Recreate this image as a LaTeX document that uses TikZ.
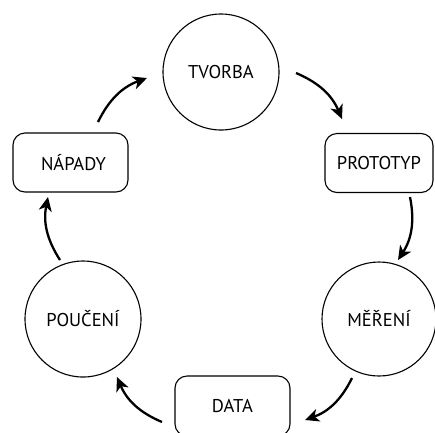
\documentclass[tikz,border=0pt]{standalone}
\usepackage{fontspec}
\setmainfont{PT Sans}
\usetikzlibrary{arrows.meta}
\begin{document}
\begin{tikzpicture}[x=1pt,y=-1pt,
  every node/.style={font=\fontsize{18.5}{20}\selectfont, text=black},
  circ/.style={draw, circle, line width=1.1pt, minimum size=116pt, inner sep=0pt},
  rbox/.style={draw, rounded corners=12pt, line width=1.1pt, minimum width=115pt, minimum height=59pt, inner sep=0pt},
  flow/.style={line width=2.3pt, -{Stealth[length=14pt,width=13pt,inset=4pt]}, bend left=22}]
\useasboundingbox (0,0) rectangle (435,432);
\node[circ] (tv) at (221,72) {TVORBA};
\node[rbox] (nap) at (70.5,162.5) {\hspace*{6pt}NÁPADY};
\node[rbox, minimum width=108pt] (pro) at (379,163) {PROTOTYP};
\node[circ, minimum size=114pt] (mer) at (379,319) {MĚŘENÍ};
\node[circ] (pou) at (83,319) {POUČENÍ};
\node[rbox, minimum height=60pt] (data) at (232.5,406) {DATA};
\coordinate (a1) at (98,122); \coordinate (b1) at (147,78);
\coordinate (a2) at (296,73); \coordinate (b2) at (342,119);
\coordinate (a3) at (410,197); \coordinate (b3) at (398,260);
\coordinate (a4) at (352,378); \coordinate (b4) at (305,420);
\coordinate (a5) at (162,422); \coordinate (b5) at (117,377);
\coordinate (a6) at (60,260); \coordinate (b6) at (48,197);
\draw[flow] (a1) to (b1);
\draw[flow] (a2) to (b2);
\draw[flow] (a3) to (b3);
\draw[flow] (a4) to (b4);
\draw[flow] (a5) to (b5);
\draw[flow] (a6) to (b6);
\end{tikzpicture}
\end{document}
